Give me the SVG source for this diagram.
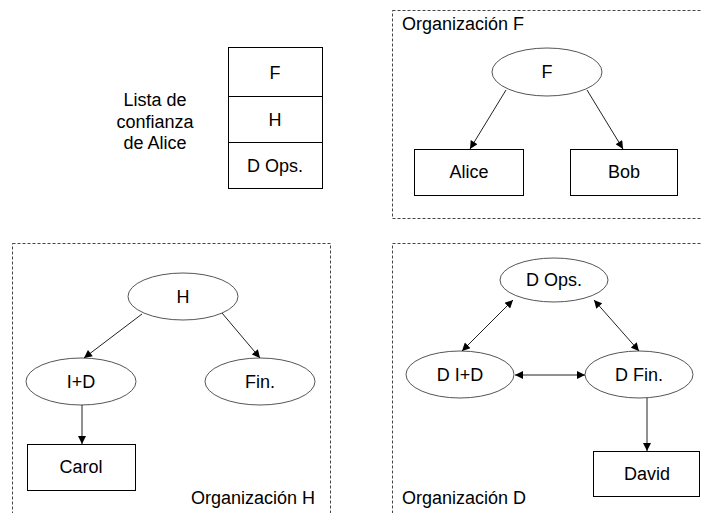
<svg xmlns="http://www.w3.org/2000/svg" width="701" height="513" viewBox="0 0 701 513">
<defs>
<marker id="ah" viewBox="0 0 10 10" refX="10" refY="5" markerWidth="9" markerHeight="8" markerUnits="userSpaceOnUse" orient="auto-start-reverse">
<path d="M0,0 L10,5 L0,10 z" fill="#000"/>
</marker>
<style>
text{font-family:"Liberation Sans",Arial,sans-serif;font-size:18px;fill:#000}
.c{text-anchor:middle;dominant-baseline:central}
.box{fill:#fff;stroke:#000;stroke-width:1}
.ell{fill:#fff;stroke:#555;stroke-width:1}
.org{fill:none;stroke:#444;stroke-width:1;stroke-dasharray:3 2}
.ln{stroke:#222;stroke-width:1;fill:none;marker-end:url(#ah)}
.bi{marker-start:url(#ah)}
</style>
</defs>
<rect width="701" height="513" fill="#fff"/>
<g id="orgF">
<rect class="org" x="392.5" y="10.5" width="320" height="208"/>
<text x="402" y="30">Organización F</text>
</g>
<g id="orgH">
<rect class="org" x="12.5" y="243.5" width="318" height="290"/>
<text x="315" y="504" text-anchor="end">Organización H</text>
</g>
<g id="orgD">
<rect class="org" x="392.5" y="243.5" width="320" height="290"/>
<text x="402" y="504">Organización D</text>
</g>
<g id="trustlist">
<text class="c" x="155" y="100">Lista de</text>
<text class="c" x="155" y="122">confianza</text>
<text class="c" x="155" y="143">de Alice</text>
<rect class="box" x="228.5" y="47.5" width="94" height="141"/>
<line x1="228.5" y1="96.5" x2="322.5" y2="96.5" stroke="#000"/>
<line x1="228.5" y1="142.5" x2="322.5" y2="142.5" stroke="#000"/>
<text class="c" x="275" y="73">F</text>
<text class="c" x="275" y="120">H</text>
<text class="c" x="275" y="166">D Ops.</text>
</g>
<g id="nF"><ellipse class="ell" cx="547" cy="72" rx="55" ry="24"/><text class="c" x="547" y="72">F</text></g>
<g id="nAlice"><rect class="box" x="414.5" y="149.5" width="109" height="46"/><text class="c" x="469" y="172">Alice</text></g>
<g id="nBob"><rect class="box" x="570.5" y="149.5" width="107" height="46"/><text class="c" x="624" y="172">Bob</text></g>
<g id="nH"><ellipse class="ell" cx="183" cy="296.5" rx="55" ry="23.5"/><text class="c" x="183" y="297">H</text></g>
<g id="nID"><ellipse class="ell" cx="81" cy="381.5" rx="55" ry="23.5"/><text class="c" x="81" y="382">I+D</text></g>
<g id="nFin"><ellipse class="ell" cx="260" cy="381.5" rx="55" ry="23.5"/><text class="c" x="260" y="382">Fin.</text></g>
<g id="nCarol"><rect class="box" x="27.5" y="444.5" width="108" height="46"/><text class="c" x="81" y="467">Carol</text></g>
<g id="nDOps"><ellipse class="ell" cx="554" cy="280" rx="54" ry="22"/><text class="c" x="554" y="280">D Ops.</text></g>
<g id="nDID"><ellipse class="ell" cx="460" cy="374.5" rx="54" ry="23.5"/><text class="c" x="460" y="375">D I+D</text></g>
<g id="nDFin"><ellipse class="ell" cx="639" cy="374.5" rx="54" ry="23.5"/><text class="c" x="639" y="375">D Fin.</text></g>
<g id="nDavid"><rect class="box" x="593.5" y="451.5" width="106" height="45"/><text class="c" x="647" y="474">David</text></g>
<g id="connectors">
<line class="ln" x1="506" y1="90" x2="470" y2="149"/>
<line class="ln" x1="587" y1="90" x2="623" y2="149"/>
<line class="ln" x1="142" y1="314" x2="84" y2="358"/>
<line class="ln" x1="222" y1="313" x2="260" y2="358"/>
<line class="ln" x1="82" y1="405" x2="82" y2="444"/>
<line class="ln bi" x1="513" y1="300" x2="462" y2="351"/>
<line class="ln bi" x1="594" y1="300" x2="639" y2="351"/>
<line class="ln bi" x1="515" y1="375" x2="585" y2="375"/>
<line class="ln" x1="647" y1="398" x2="647" y2="451"/>
</g>
</svg>
